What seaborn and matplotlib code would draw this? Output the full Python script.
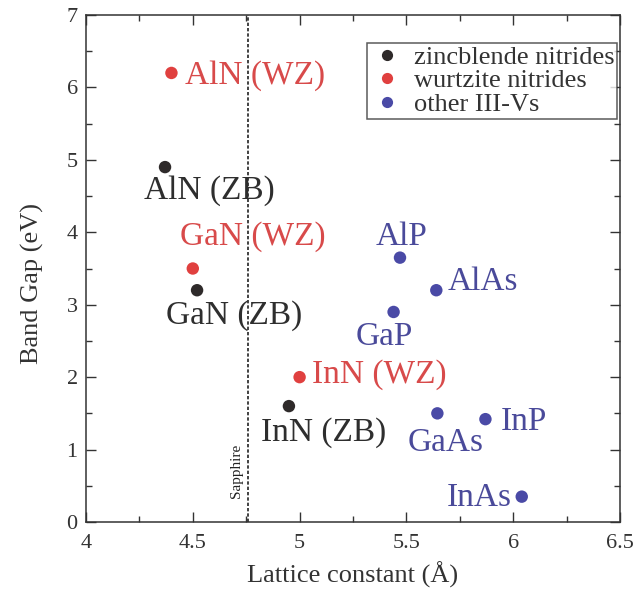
import matplotlib
matplotlib.use("Agg")
import matplotlib.pyplot as plt
from matplotlib.ticker import MultipleLocator
import seaborn as sns
import pandas as pd

# Semiconductor band gap vs lattice constant
materials = ["AlN (ZB)", "GaN (ZB)", "InN (ZB)",
             "AlN (WZ)", "GaN (WZ)", "InN (WZ)",
             "AlP", "AlAs", "GaP", "GaAs", "InP", "InAs"]
lattice = [4.37, 4.52, 4.95,
           4.40, 4.50, 5.00,
           5.47, 5.64, 5.44, 5.645, 5.87, 6.04]
band_gap = [4.9, 3.2, 1.6,
            6.2, 3.5, 2.0,
            3.65, 3.2, 2.9, 1.5, 1.42, 0.35]
family = ["zincblende nitrides"] * 3 + ["wurtzite nitrides"] * 3 + ["other III-Vs"] * 6

sapphire_a = 4.76

# label offsets (points, baseline-anchored) and horizontal alignment
offsets = {
    "AlN (ZB)": (32, -23, "center"), "GaN (ZB)": (27, -24, "center"),
    "InN (ZB)": (25, -25, "center"), "AlN (WZ)": (10, -8, "left"),
    "GaN (WZ)": (43, 17, "center"), "InN (WZ)": (9, -4, "left"),
    "AlP": (1, 9, "center"), "AlAs": (8, 0, "left"),
    "GaP": (-7, -24, "center"), "GaAs": (6, -27, "center"),
    "InP": (11, -8, "left"), "InAs": (-7, -7, "right"),
}

df = pd.DataFrame({"material": materials, "a": lattice, "Eg": band_gap, "family": family})

palette = {"zincblende nitrides": "#2e2a2a",
           "wurtzite nitrides": "#e0403f",
           "other III-Vs": "#4a4aa6"}
text_col = {"zincblende nitrides": "#2e2e2e",
            "wurtzite nitrides": "#d84a4a",
            "other III-Vs": "#4a4a9a"}

sns.set_style("ticks")
plt.rcParams["font.family"] = ["Liberation Serif", "DejaVu Serif"]

fig = plt.figure(figsize=(6.34, 5.89), dpi=100)
ax = fig.add_axes([86 / 634, 1 - 522 / 589, (620 - 86) / 634, (522 - 15) / 589])

sns.scatterplot(data=df, x="a", y="Eg", hue="family", s=80, palette=palette,
                hue_order=list(palette.keys()),
                edgecolor="none", linewidth=0, ax=ax, zorder=3)

for m, x, y, f in zip(materials, lattice, band_gap, family):
    dx, dy, ha = offsets[m]
    ax.annotate(m, (x, y), xytext=(dx, dy), textcoords="offset points",
                ha=ha, va="baseline", fontsize=24, color=text_col[f])

ax.axvline(sapphire_a, color="#222222", ls=(0, (2, 1.2)), lw=1.2, zorder=1)
ax.text(sapphire_a - 0.055, 0.7, "Sapphire", rotation=90, ha="center", va="center",
        fontsize=11, color="#222222")

ax.set_xlim(4, 6.5)
ax.set_ylim(0, 7)
ax.xaxis.set_major_locator(MultipleLocator(0.5))
ax.xaxis.set_minor_locator(MultipleLocator(0.25))
ax.yaxis.set_major_locator(MultipleLocator(1))
ax.yaxis.set_minor_locator(MultipleLocator(0.5))
ax.set_xticks([4, 4.5, 5, 5.5, 6, 6.5])
ax.set_xticklabels(["4", "4.5", "5", "5.5", "6", "6.5"])
ax.tick_params(which="both", direction="in", top=True, right=True,
               labelsize=16, color="#333333", labelcolor="#333333")
ax.tick_params(axis="x", which="major", pad=9)
ax.tick_params(axis="y", which="major", pad=6)
ax.tick_params(which="major", length=7, width=1)
ax.tick_params(which="minor", length=4, width=1)
for s in ax.spines.values():
    s.set_color("#333333")
    s.set_linewidth(1.1)

ax.set_xlabel("Lattice constant (Å)", fontsize=19, color="#333333", labelpad=6)
ax.set_ylabel("Band Gap (eV)", fontsize=19, color="#333333")
ax.yaxis.set_label_coords(-0.0785, 0.47)

handles, labels = ax.get_legend_handles_labels()
leg = ax.legend(handles, labels, loc="upper right", bbox_to_anchor=(0.994, 0.945),
                fontsize=19, frameon=True, fancybox=False, edgecolor="#333333",
                handletextpad=0.35, borderpad=0.1, labelspacing=0.0,
                handlelength=1.3, borderaxespad=0, markerscale=0.9)
leg.get_frame().set_linewidth(1.1)
for t in leg.get_texts():
    t.set_color("#333333")

fig.savefig("out.png", dpi=100)
